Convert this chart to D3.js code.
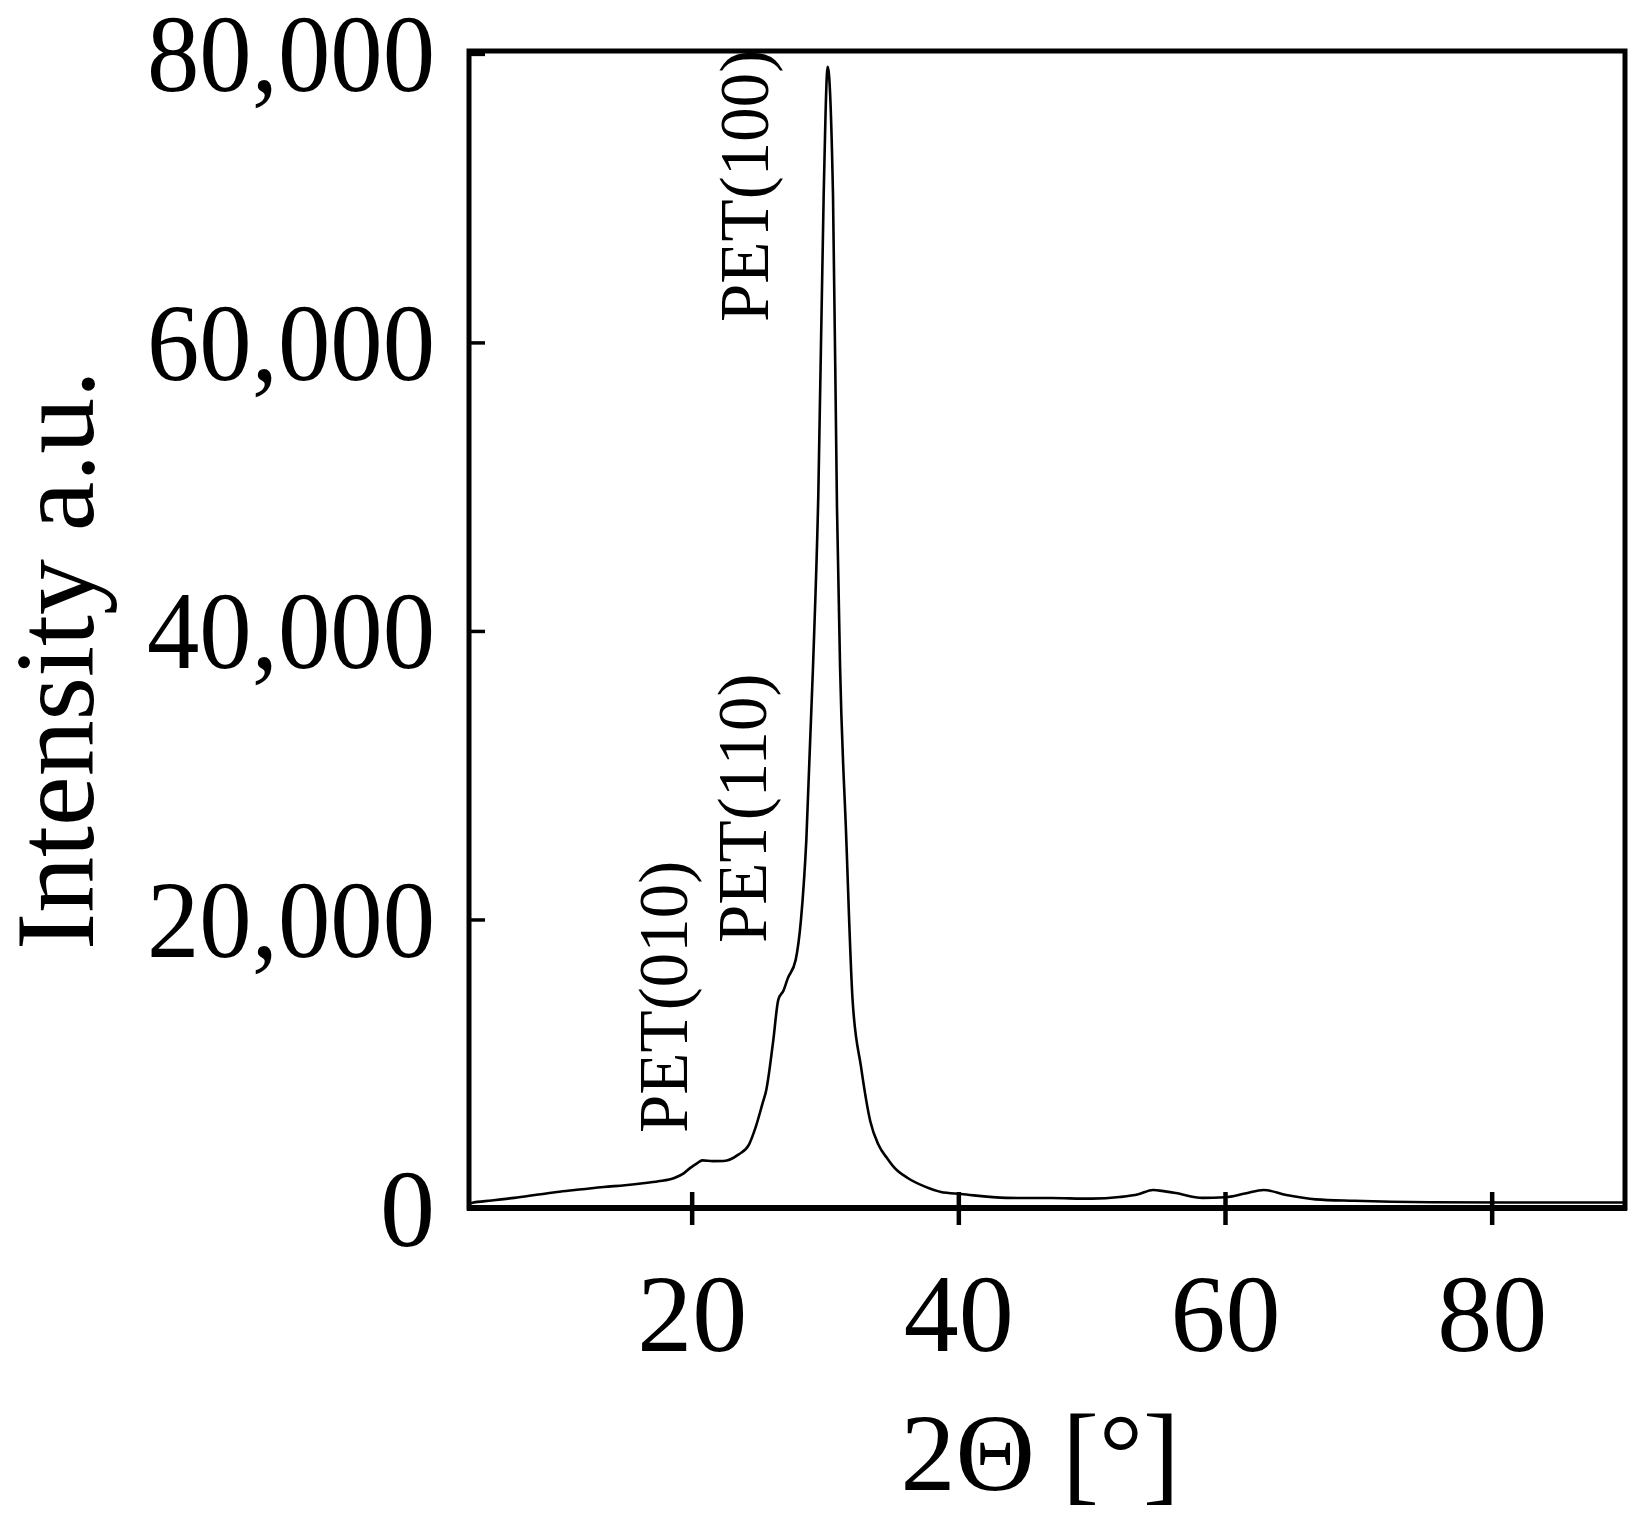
<!DOCTYPE html>
<html>
<head>
<meta charset="utf-8">
<script src="https://cdn.jsdelivr.net/npm/d3@7"></script>
<style>
  body { margin: 0; background: #fff; }
  text { font-family: "Liberation Serif", "Times New Roman", serif; fill: #000; }
</style>
</head>
<body>
<svg id="chart"></svg>
<script>
// 2θ の値 (度)
var twoTheta = [3.3, 3.5, 5, 6.7, 8.5, 10.1, 11.8, 13.4, 15, 16.2, 17.5, 18.7, 19.4, 19.9, 20.4, 20.8,
  21.6, 22.4, 23.5, 24.3, 24.8, 25.3, 25.6, 26.1, 26.5, 26.9, 27.2, 27.8, 28.2, 28.6, 29.1,
  29.5, 29.9, 30.2, 30.6, 30.9, 31.13, 31.58, 32.07, 32.7, 33.4, 34.0, 34.7, 35.2, 36.2, 37.5,
  38.7, 40.2, 43.6, 47, 50, 52.1, 53.5, 54.6, 55.5, 56.3, 58.3, 60, 61.5, 62.9, 64.6, 66.8, 69.7,
  75.4, 81.1, 90];
// 強度 (a.u.)
var intensity = [300, 350, 520, 700, 930, 1130, 1300, 1460, 1580, 1700, 1850, 2080, 2400, 2780, 3100, 3300,
  3250, 3260, 3700, 4400, 5600, 7200, 8200, 11460, 14440, 15100, 15900, 17200, 20000, 25500, 37500,
  49500, 70200, 79100, 70200, 48500, 37500, 26000, 14400, 9800, 6000, 4400, 3400, 2800, 2080, 1480,
  1110, 970, 700, 690, 650, 760, 950, 1250, 1150, 1040, 700, 740, 1000, 1250, 900, 600, 500,
  400, 380, 380];

var xTicks = [20, 40, 60, 80];
var yTicks = [0, 20000, 40000, 60000, 80000];

var peakLabels = ["PET(100)", "PET(110)", "PET(010)"];
var peakLabelPos = [[768, 322], [766, 943], [687, 1133]];

var W = 1644, H = 1525;
var plotL = 469, plotR = 1625, plotT = 51, plotB = 1208;

var svg = d3.select("#chart").attr("width", W).attr("height", H);

var x = d3.scaleLinear().domain([3.3, 90]).range([plotL, plotR]);
var y = d3.scaleLinear().domain([0, 80200]).range([plotB, plotT]);

var data = twoTheta.map(function(t, i) { return { t: t, v: intensity[i] }; });

// カーブ
var line = d3.line()
  .x(function(d) { return x(d.t); })
  .y(function(d) { return y(d.v); })
  .curve(d3.curveMonotoneX);

svg.append("path")
  .datum(data)
  .attr("d", line)
  .attr("fill", "none")
  .attr("stroke", "#000")
  .attr("stroke-width", 2.6)
  .attr("stroke-linejoin", "round");

// Y軸
var yFmt = d3.format(",");
var yAxis = svg.append("g")
  .attr("transform", "translate(" + plotL + ",0)")
  .call(d3.axisLeft(y).tickValues(yTicks).tickFormat(yFmt).tickSize(-16).tickPadding(34));
yAxis.select(".domain").remove();
yAxis.selectAll("line").attr("stroke", "#000").attr("stroke-width", 3.5);
yAxis.selectAll("text")
  .attr("font-size", 110)
  .attr("dy", null)
  .attr("y", 37)
  .style("font-family", '"Liberation Serif", "Times New Roman", serif')
  .each(function(d) {
    if (yFmt(d).length > 1) {
      d3.select(this).attr("textLength", 288).attr("lengthAdjust", "spacingAndGlyphs");
    }
  });

// X軸
var xAxis = svg.append("g")
  .attr("transform", "translate(0," + plotB + ")")
  .call(d3.axisBottom(x).tickValues(xTicks).tickSize(17).tickPadding(48));
xAxis.select(".domain").remove();
xAxis.selectAll("line").attr("y1", -16).attr("stroke", "#000").attr("stroke-width", 4.5);
xAxis.selectAll("text")
  .attr("font-size", 110)
  .style("font-family", '"Liberation Serif", "Times New Roman", serif');

// 枠
svg.append("rect")
  .attr("x", plotL).attr("y", plotT)
  .attr("width", plotR - plotL).attr("height", plotB - plotT)
  .attr("fill", "none").attr("stroke", "#000").attr("stroke-width", 5);
svg.append("line")
  .attr("x1", plotL - 2).attr("x2", plotR + 2)
  .attr("y1", plotB).attr("y2", plotB)
  .attr("stroke", "#000").attr("stroke-width", 6);

// 軸タイトル
svg.append("text")
  .attr("x", 1040).attr("y", 1490)
  .attr("text-anchor", "middle")
  .attr("font-size", 110)
  .text("2Θ [°]");

svg.append("text")
  .attr("transform", "translate(93,660) rotate(-90)")
  .attr("text-anchor", "middle")
  .attr("font-size", 113)
  .attr("textLength", 580)
  .attr("lengthAdjust", "spacingAndGlyphs")
  .text("Intensity a.u.");

// ピークのラベル
svg.selectAll(".peak")
  .data(peakLabels)
  .enter()
  .append("text")
  .attr("class", "peak")
  .attr("transform", function(d, i) {
    return "translate(" + peakLabelPos[i][0] + "," + peakLabelPos[i][1] + ") rotate(-90)";
  })
  .attr("font-size", 69)
  .text(function(d) { return d; });
</script>
</body>
</html>
